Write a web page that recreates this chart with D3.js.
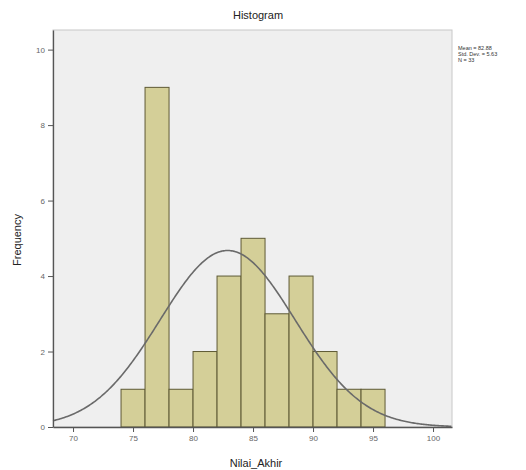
<!DOCTYPE html>
<html>
<head>
<meta charset="utf-8">
<script src="https://cdn.jsdelivr.net/npm/d3@7"></script>
<style>
  body { margin: 0; background: #fff; }
  text { font-family: "Liberation Sans", Arial, sans-serif; }
</style>
</head>
<body>
<div id="chart"></div>
<script>
// histogram bins (lower edge) and counts
var binStarts = [74, 76, 78, 80, 82, 84, 86, 88, 90, 92, 94];
var binCounts = [1, 9, 1, 2, 4, 5, 3, 4, 2, 1, 1];
var binWidth = 2;
var xTicks = [70, 75, 80, 85, 90, 95, 100];
var yTicks = [0, 2, 4, 6, 8, 10];
var statsLines = ["Mean = 82.88", "Std. Dev. = 5.63", "N = 33"];
var mean = 82.88, sd = 5.63, n = 33;

var width = 526, height = 470;
var margin = {top: 30, right: 74, bottom: 43, left: 53};

var svg = d3.select("#chart").append("svg")
    .attr("width", width)
    .attr("height", height);

var x = d3.scaleLinear()
    .domain([68.33, 101.58])
    .range([margin.left, width - margin.right]);

var y = d3.scaleLinear()
    .domain([0, 10.52])
    .range([height - margin.bottom, margin.top]);

// plot background
svg.append("rect")
    .attr("x", margin.left)
    .attr("y", margin.top)
    .attr("width", width - margin.left - margin.right)
    .attr("height", height - margin.top - margin.bottom)
    .attr("fill", "#efefef")
    .attr("stroke", "#c8c8c8");

// bars
svg.append("g").selectAll("rect")
    .data(binStarts)
    .enter()
    .append("rect")
        .attr("x", function (d) { return x(d); })
        .attr("y", function (d, i) { return y(binCounts[i]); })
        .attr("width", function (d) { return x(d + binWidth) - x(d); })
        .attr("height", function (d, i) { return y(0) - y(binCounts[i]); })
        .attr("fill", "#d4cf98")
        .attr("stroke", "#5e5a35")
        .attr("stroke-width", 1);

// normal curve
var curvePts = d3.range(68.33, 101.58, 0.1).map(function (v) {
    var z = (v - mean) / sd;
    return [v, n * binWidth * Math.exp(-0.5 * z * z) / (sd * Math.sqrt(2 * Math.PI))];
});
svg.append("path")
    .datum(curvePts)
    .attr("fill", "none")
    .attr("stroke", "#6a6a6a")
    .attr("stroke-width", 1.6)
    .attr("d", d3.line()
        .x(function (d) { return x(d[0]); })
        .y(function (d) { return y(d[1]); }));

// axes
var xAxis = svg.append("g")
    .attr("transform", "translate(0," + (height - margin.bottom) + ")")
    .call(d3.axisBottom(x).tickValues(xTicks).tickSize(5).tickSizeOuter(0));
var yAxis = svg.append("g")
    .attr("transform", "translate(" + margin.left + ",0)")
    .call(d3.axisLeft(y).tickValues(yTicks).tickSize(5).tickSizeOuter(0));

[xAxis, yAxis].forEach(function (g) {
    g.select(".domain").attr("stroke", "#555").attr("stroke-width", 1.3);
    g.selectAll(".tick line").attr("stroke", "#555");
    g.selectAll(".tick text").attr("fill", "#666").style("font-size", "8px");
});

// title and axis labels
svg.append("text")
    .attr("x", 258).attr("y", 19)
    .attr("text-anchor", "middle")
    .style("font-size", "11px")
    .attr("fill", "#222")
    .text("Histogram");

svg.append("text")
    .attr("x", 256).attr("y", 467)
    .attr("text-anchor", "middle")
    .style("font-size", "11px")
    .attr("fill", "#222")
    .text("Nilai_Akhir");

svg.append("text")
    .attr("transform", "translate(21,240) rotate(-90)")
    .attr("text-anchor", "middle")
    .style("font-size", "11px")
    .attr("fill", "#222")
    .text("Frequency");

// stats box
svg.append("g").selectAll("text")
    .data(statsLines)
    .enter()
    .append("text")
        .attr("x", 458)
        .attr("y", function (d, i) { return 50 + i * 6; })
        .style("font-size", "5.5px")
        .attr("fill", "#333")
        .text(function (d) { return d; });
</script>
</body>
</html>
